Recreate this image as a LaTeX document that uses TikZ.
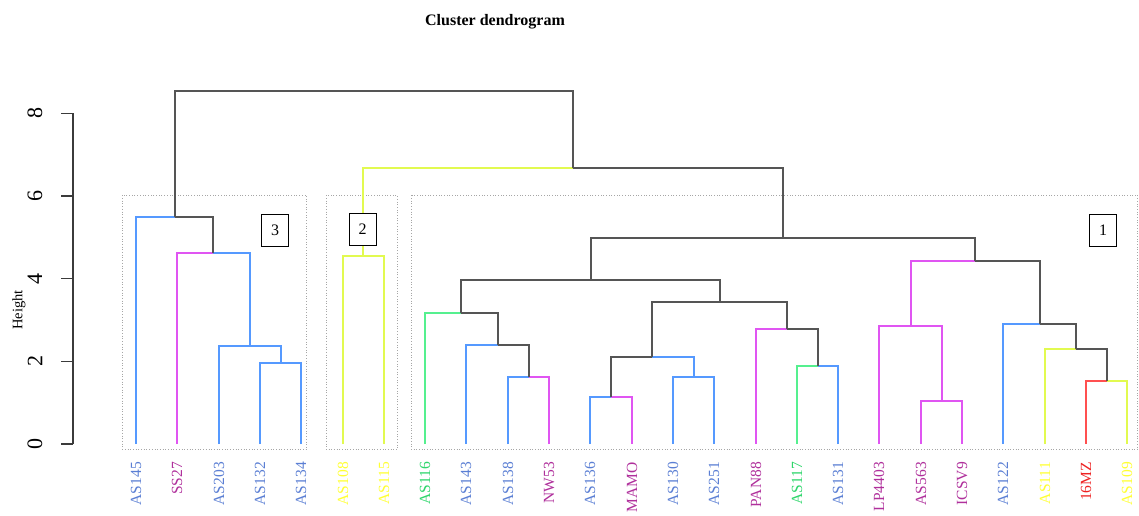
\documentclass[tikz,border=0pt]{standalone}
\usepackage{fontspec}
\setmainfont{Liberation Serif}
\definecolor{cblue}{HTML}{5599FF}
\definecolor{cpink}{HTML}{E055F2}
\definecolor{cgreen}{HTML}{55F08F}
\definecolor{cyel}{HTML}{E2FA50}
\definecolor{cred}{HTML}{FF5050}
\definecolor{cgray}{HTML}{555555}
\definecolor{tblue}{HTML}{5B7FD4}
\definecolor{tpurp}{HTML}{B0309C}
\definecolor{tyel}{HTML}{FFFF33}
\definecolor{tgreen}{HTML}{2ED66B}
\definecolor{tred}{HTML}{EE2222}
\newcommand\dbranch[3]{\draw[branch,#1] (#2) |- (#3);}
\begin{document}
\begin{tikzpicture}[x=1pt,y=-1pt,
  branch/.style={line width=2pt},
  lab/.style={rotate=90,anchor=east,inner sep=0pt,font=\fontsize{15.5}{15.5}\selectfont},
  ticklab/.style={rotate=90,inner sep=0pt,font=\fontsize{22}{22}\selectfont},
  clbox/.style={draw=gray!70,dotted,line width=0.7pt},
  numbox/.style={draw=black,fill=white,line width=1pt,minimum width=27pt,minimum height=32pt,inner sep=0pt,font=\fontsize{16}{16}\selectfont}]
\useasboundingbox (0,0) rectangle (1139,515);
\clip (0,0) rectangle (1139,515);
\fill[white] (0,0) rectangle (1139,515);

% title
\node[font=\bfseries\fontsize{16}{16}\selectfont] (title) at (495,22) {Cluster dendrogram};

% axis
\coordinate (ax0) at (73,444);
\coordinate (ax8) at (73,113.3);
\draw[cgray!70!black,line width=1.4pt] (ax0) -- (ax8);
\foreach \v in {0,2,4,6,8}{
  \coordinate (tk\v) at (73,{444-41.34*\v});
  \coordinate (tl\v) at (61,{444-41.34*\v});
  \draw[cgray!70!black,line width=1.4pt] (tk\v) -- (tl\v);
  \node[ticklab] (tn\v) at (35,{444-41.34*\v}) {\v};
}
\node[rotate=90,inner sep=0pt,font=\fontsize{14.5}{14.5}\selectfont] (ylab) at (19,310) {Height};

% cluster rectangles
\draw[clbox] (122.3,195.3) rectangle (306.7,449.3);
\draw[clbox] (326,195.3) rectangle (397.3,449.3);
\draw[clbox] (411,195.3) rectangle (1137.7,449.3);

% leaves and labels
\foreach \i/\t/\c in {1/AS145/tblue,2/SS27/tpurp,3/AS203/tblue,4/AS132/tblue,5/AS134/tblue,
  6/AS108/tyel,7/AS115/tyel,8/AS116/tgreen,9/AS143/tblue,10/AS138/tblue,11/NW53/tpurp,
  12/AS136/tblue,13/MAMO/tpurp,14/AS130/tblue,15/AS251/tblue,16/PAN88/tpurp,17/AS117/tgreen,
  18/AS131/tblue,19/LP4403/tpurp,20/AS563/tpurp,21/ICSV9/tpurp,22/AS122/tblue,23/AS111/tyel,
  24/16MZ/tred,25/AS109/tyel}{
  \pgfmathsetmacro\lx{round(136+41.3*(\i-1))}
  \coordinate (L\i) at (\lx,444);
  \node[lab,text=\c] (T\i) at (\lx,462) {\t};
}

% merge points
\coordinate (c3a) at (280.5,362.7);
\coordinate (c3b) at (249.5,346);
\coordinate (c3c) at (213,252.7);
\coordinate (c3) at (174.5,217.3);
\coordinate (c2) at (363,256);
\coordinate (m1a) at (528.5,376.7);
\coordinate (m1b) at (497.5,344.7);
\coordinate (m1c) at (461,312.7);
\coordinate (m2a) at (611,396.7);
\coordinate (m2b) at (693.5,377.3);
\coordinate (m2c) at (652,356.7);
\coordinate (m3a) at (817.5,365.7);
\coordinate (m3b) at (786.5,329.3);
\coordinate (m3c) at (719.5,301.7);
\coordinate (mL) at (590.5,280);
\coordinate (r1a) at (941.5,401.3);
\coordinate (r1b) at (910.5,325.7);
\coordinate (r2a) at (1106.5,381.3);
\coordinate (r2b) at (1075.5,349.3);
\coordinate (r2c) at (1039.5,324);
\coordinate (rR) at (975,261);
\coordinate (c1) at (782.5,238);
\coordinate (c12) at (573,168.3);
\coordinate (root) at (374,90.7);

% cluster 3
\dbranch{cblue}{L4}{c3a}
\dbranch{cblue}{L5}{c3a}
\dbranch{cblue}{L3}{c3b}
\dbranch{cblue}{c3a}{c3b}
\dbranch{cpink}{L2}{c3c}
\dbranch{cblue}{c3b}{c3c}
\dbranch{cblue}{L1}{c3}
\dbranch{cgray}{c3c}{c3}
% cluster 2
\dbranch{cyel}{L6}{c2}
\dbranch{cyel}{L7}{c2}
\dbranch{cyel}{c2}{c12}
% cluster 1, left
\dbranch{cblue}{L10}{m1a}
\dbranch{cpink}{L11}{m1a}
\dbranch{cblue}{L9}{m1b}
\dbranch{cgray}{m1a}{m1b}
\dbranch{cgreen}{L8}{m1c}
\dbranch{cgray}{m1b}{m1c}
\dbranch{cblue}{L12}{m2a}
\dbranch{cpink}{L13}{m2a}
\dbranch{cblue}{L14}{m2b}
\dbranch{cblue}{L15}{m2b}
\dbranch{cgray}{m2a}{m2c}
\dbranch{cblue}{m2b}{m2c}
\dbranch{cgreen}{L17}{m3a}
\dbranch{cblue}{L18}{m3a}
\dbranch{cpink}{L16}{m3b}
\dbranch{cgray}{m3a}{m3b}
\dbranch{cgray}{m2c}{m3c}
\dbranch{cgray}{m3b}{m3c}
\dbranch{cgray}{m1c}{mL}
\dbranch{cgray}{m3c}{mL}
% cluster 1, right
\dbranch{cpink}{L20}{r1a}
\dbranch{cpink}{L21}{r1a}
\dbranch{cpink}{L19}{r1b}
\dbranch{cpink}{r1a}{r1b}
\dbranch{cred}{L24}{r2a}
\dbranch{cyel}{L25}{r2a}
\dbranch{cyel}{L23}{r2b}
\dbranch{cgray}{r2a}{r2b}
\dbranch{cblue}{L22}{r2c}
\dbranch{cgray}{r2b}{r2c}
\dbranch{cpink}{r1b}{rR}
\dbranch{cgray}{r2c}{rR}
\dbranch{cgray}{mL}{c1}
\dbranch{cgray}{rR}{c1}
% top
\dbranch{cgray}{c1}{c12}
\dbranch{cgray}{c3}{root}
\dbranch{cgray}{c12}{root}

% cluster numbers
\node[numbox] (n3) at (275.2,230.7) {3};
\node[numbox] (n2) at (362.7,229.3) {2};
\node[numbox] (n1) at (1103,230.7) {1};
\end{tikzpicture}
\end{document}
